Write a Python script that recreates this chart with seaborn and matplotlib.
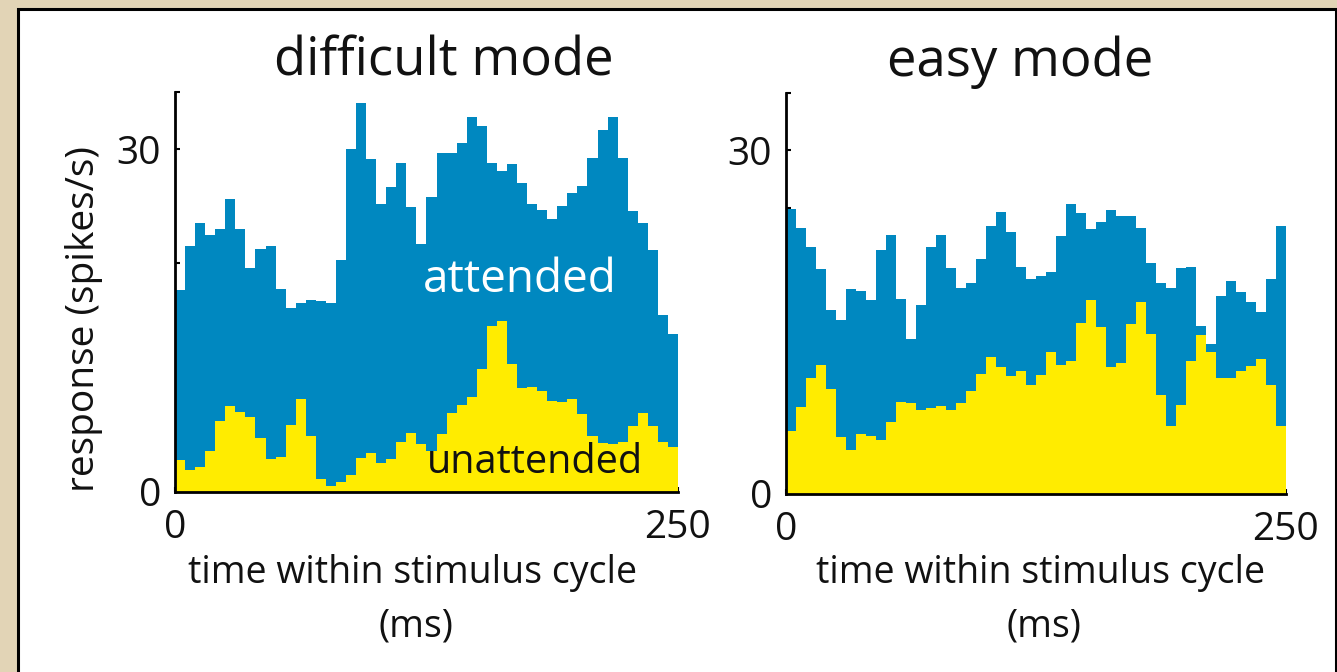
import numpy as np
import pandas as pd
import seaborn as sns
import matplotlib.pyplot as plt
from matplotlib.patches import Rectangle

# 50 bins of 5 ms across one 250 ms stimulus cycle
bin_edges = np.arange(0, 251, 5)
bin_centers = bin_edges[:-1] + 2.5

# spikes/s per bin
difficult_attended = [17.7, 21.5, 23.5, 22.5, 23.0, 25.6, 23.0, 19.6, 21.3, 21.5,
                      17.8, 16.1, 16.5, 16.8, 16.7, 16.5, 20.3, 30.0, 34.0, 29.1,
                      25.2, 26.7, 28.8, 24.9, 21.7, 25.8, 29.7, 29.7, 30.5, 32.8,
                      32.0, 28.8, 28.1, 28.7, 27.0, 25.2, 24.7, 23.9, 25.0, 26.2,
                      26.8, 29.2, 31.7, 32.8, 29.2, 24.6, 23.5, 21.2, 15.5, 13.8]
difficult_unattended = [2.8, 1.9, 2.2, 3.6, 6.2, 7.5, 7.0, 6.6, 4.7, 2.9,
                        3.1, 5.9, 8.1, 4.9, 1.1, 0.5, 0.9, 1.5, 3.0, 3.4,
                        2.5, 2.9, 4.4, 5.2, 4.2, 3.6, 5.1, 6.9, 7.6, 8.3,
                        10.8, 14.5, 15.0, 11.2, 9.1, 9.2, 8.8, 8.0, 7.9, 8.1,
                        6.8, 4.9, 4.3, 4.2, 4.4, 5.8, 6.9, 5.8, 4.4, 3.9]
easy_attended = [24.9, 23.2, 21.6, 19.6, 16.1, 15.2, 17.9, 17.7, 16.9, 21.3,
                 22.6, 17.0, 13.5, 16.5, 21.6, 22.6, 19.7, 18.0, 18.4, 20.5,
                 23.4, 24.6, 22.9, 19.8, 18.8, 19.0, 19.4, 22.5, 25.3, 24.5,
                 23.1, 23.7, 24.8, 24.3, 24.3, 23.2, 20.2, 18.4, 18.0, 19.7,
                 19.8, 14.7, 13.1, 17.3, 18.6, 17.6, 16.8, 15.9, 18.8, 23.4]
easy_unattended = [5.5, 7.6, 10.1, 11.3, 9.2, 5.0, 3.8, 5.2, 5.1, 4.7,
                   6.3, 8.0, 7.9, 7.3, 7.5, 7.7, 7.3, 7.9, 9.0, 10.5,
                   12.0, 11.1, 10.3, 10.7, 9.5, 10.4, 12.4, 11.3, 11.6, 14.9,
                   16.9, 14.6, 11.1, 11.4, 14.8, 16.8, 14.0, 8.6, 5.9, 7.8,
                   11.6, 13.9, 12.4, 10.1, 10.1, 10.7, 11.2, 11.8, 9.5, 5.9]

BLUE = "#0088c0"
YELLOW = "#ffec00"
TAN = "#e2d4b6"

sns.set_theme(style="ticks")
plt.rcParams['font.family'] = ['Open Sans', 'DejaVu Sans']

W, H = 1337, 672
fig = plt.figure(figsize=(W / 100, H / 100), dpi=100, facecolor=TAN)


def px(x, y):
    # pixel position -> figure fraction
    return x / W, 1 - y / H


# white card with black frame
fig.add_artist(Rectangle((18 / W, -0.05), (1336 - 18) / W, 1.05 - 9 / H,
                         transform=fig.transFigure, facecolor="white",
                         edgecolor="black", linewidth=2.2, zorder=0))

ax1 = fig.add_axes([175 / W, 1 - 492 / H, 503 / W, 400 / H])
ax2 = fig.add_axes([786 / W, 1 - 494 / H, 500 / W, 401 / H])

panels = [
    (ax1, difficult_attended, difficult_unattended, [0, 5, 10, 15, 20, 30, 35]),
    (ax2, easy_attended, easy_unattended, [0, 10, 15, 20, 25, 30, 35]),
]

for ax, att, unatt, yticks in panels:
    ax.set_facecolor("none")
    df = pd.DataFrame({"t": bin_centers, "attended": att, "unattended": unatt})
    sns.histplot(data=df, x="t", weights="attended", bins=bin_edges.tolist(),
                 element="step", fill=True, color=BLUE, alpha=1, linewidth=0, ax=ax)
    sns.histplot(data=df, x="t", weights="unattended", bins=bin_edges.tolist(),
                 element="step", fill=True, color=YELLOW, alpha=1, linewidth=0, ax=ax)
    ax.set_xlim(0, 250)
    ax.set_ylim(0, 35)
    ax.set_xlabel("")
    ax.set_ylabel("")
    sns.despine(ax=ax)
    for s in ("left", "bottom"):
        ax.spines[s].set_linewidth(2.0)
        ax.spines[s].set_color("black")
    ax.set_xticks([0, 50, 100, 150, 200, 250])
    ax.set_xticklabels(["0", "", "", "", "", "250"])
    ax.set_yticks(yticks)
    ax.set_yticklabels(["30" if t == 30 else ("0" if t == 0 else "") for t in yticks])
    ax.tick_params(direction="in", length=3.6, width=1.5, colors="black",
                   labelsize=28, labelcolor="#111111")
    ax.tick_params(axis="x", pad=12)
    ax.tick_params(axis="y", pad=10)

txt = dict(color="#111111", ha="center")
fig.text(*px(444, 76), "difficult mode", fontsize=38, va="baseline", **txt)
fig.text(*px(1020, 76), "easy mode", fontsize=38, va="baseline", **txt)

for cx in (413, 1041):
    fig.text(*px(cx, 583), "time within stimulus cycle", fontsize=27, va="baseline", **txt)
    fig.text(*px(cx + 3, 637), "(ms)", fontsize=27, va="baseline", **txt)

fig.text(*px(84, 319), "response (spikes/s)", fontsize=28, rotation=90,
         va="center", **txt)

fig.text(*px(520, 292), "attended", fontsize=33, va="baseline", color="white", ha="center")
fig.text(*px(535, 473), "unattended", fontsize=28.5, va="baseline", color="#111111", ha="center")

fig.savefig("out.png", dpi=100, facecolor=fig.get_facecolor())
